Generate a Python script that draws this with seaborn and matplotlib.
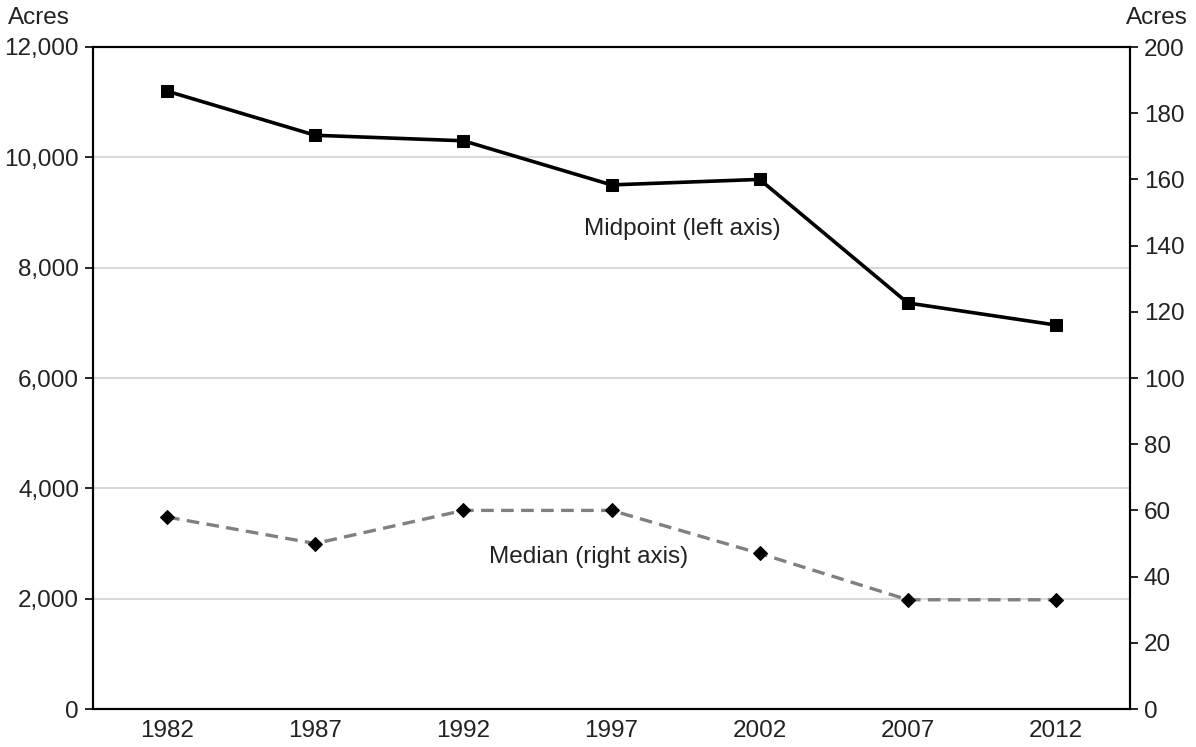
import matplotlib
matplotlib.use("Agg")
import matplotlib.pyplot as plt
import matplotlib.ticker as mticker
import seaborn as sns
import numpy as np
import pandas as pd

years = ["1982", "1987", "1992", "1997", "2002", "2007", "2012"]
midpoint = [11200, 10400, 10300, 9500, 9600, 7360, 6960]
median = [58, 50, 60, 60, 47, 33, 33]
left_ticks = [0, 2000, 4000, 6000, 8000, 10000, 12000]
right_ticks = [0, 20, 40, 60, 80, 100, 120, 140, 160, 180, 200]

sns.set_theme(style="white")
plt.rcParams["font.family"] = ["Liberation Sans", "DejaVu Sans"]

df = pd.DataFrame({"pos": np.arange(len(years)), "year": years,
                   "midpoint": midpoint, "median": median})

fig = plt.figure(figsize=(11.96, 7.47), dpi=100)
ax = fig.add_axes([93/1196, 1-709/747, (1130-93)/1196, (709-47)/747])
ax2 = ax.twinx()

ax.set_ylim(0, 12000)
ax.set_yticks(left_ticks)
ax.yaxis.set_major_formatter(mticker.FuncFormatter(lambda v, p: f"{int(v):,}"))
ax.grid(axis="y", color="#d9d9d9", linewidth=1.5)
ax.set_axisbelow(True)

sns.lineplot(data=df, x="pos", y="midpoint", ax=ax, color="black", linewidth=2.6,
             marker="s", markersize=9, markeredgecolor="black", markerfacecolor="black",
             zorder=5)
sns.lineplot(data=df, x="pos", y="median", ax=ax2, color="#808080", linewidth=2.4,
             linestyle=(0, (3.8, 2.2)), zorder=5)
sns.lineplot(data=df, x="pos", y="median", ax=ax2, color="black", linewidth=0,
             marker="D", markersize=6.8, markeredgecolor="black",
             markerfacecolor="black", zorder=6)

ax2.set_ylim(0, 200)
ax2.set_yticks(right_ticks)
ax.set_xlim(-0.5, len(years) - 0.5)
ax.set_xticks(df["pos"])
ax.set_xticklabels(years)

for a in (ax, ax2):
    a.set_xlabel("")
    a.set_ylabel("")
    for s in a.spines.values():
        s.set_color("black")
        s.set_linewidth(1.5)
        s.set_visible(True)
    a.grid(axis="x", visible=False)

FS = 17.5
ax.tick_params(axis="y", which="major", length=6, width=1.2, color="black",
               labelsize=FS, labelcolor="#222222", pad=4, direction="out", left=True)
ax.tick_params(axis="x", length=0, labelsize=FS, labelcolor="#222222", pad=8)
ax2.tick_params(axis="y", which="major", length=6, width=1.2, color="black",
                labelsize=FS, labelcolor="#222222", pad=4, direction="out", right=True)
ax2.grid(False)

ax.text(0.5685, 0.725, "Midpoint (left axis)", transform=ax.transAxes,
        ha="center", va="center", fontsize=FS, color="#222222")
ax.text(0.478, 0.23, "Median (right axis)", transform=ax.transAxes,
        ha="center", va="center", fontsize=FS, color="#222222")

fig.text(8/1196, 1-18/747, "Acres", ha="left", va="center", fontsize=FS, color="#222222")
fig.text(1188/1196, 1-18/747, "Acres", ha="right", va="center", fontsize=FS, color="#222222")

fig.savefig("out.png", dpi=100)
